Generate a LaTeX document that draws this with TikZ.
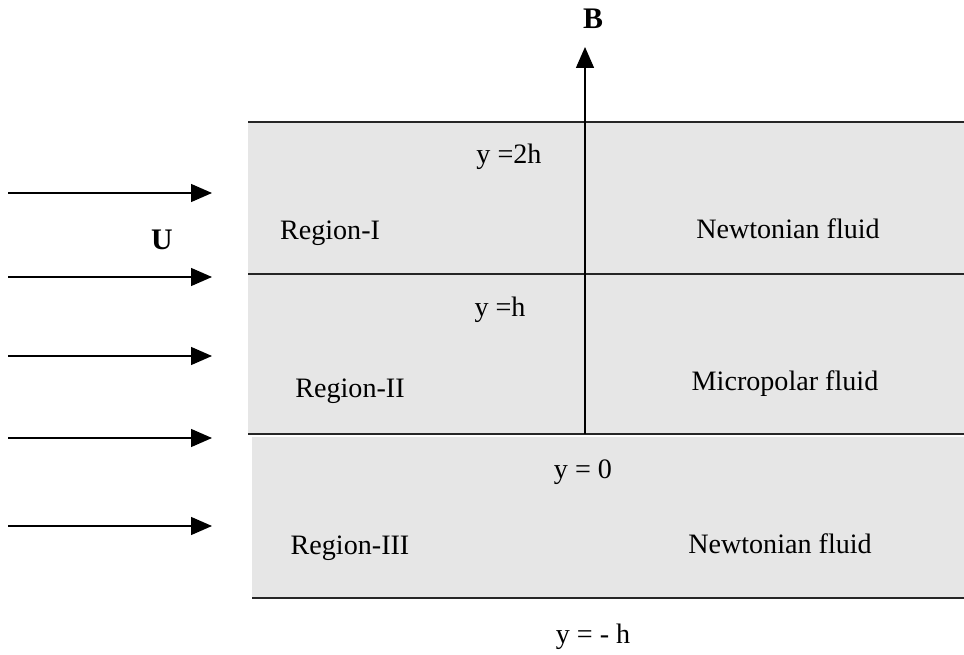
\documentclass[tikz,border=0pt]{standalone}
\usepackage{fontspec}
\setmainfont{Liberation Serif}
\usepackage{tikz}
\usetikzlibrary{arrows.meta}
\definecolor{fluidgray}{RGB}{230,230,230}
\tikzstyle{Label}=[inner sep=0pt, text=black, font=\fontsize{16}{19}\selectfont]
\tikzstyle{Vector}=[inner sep=0pt, text=black, font=\fontsize{17}{20}\selectfont\bfseries]
\tikzstyle{Layer}=[fill=fluidgray, draw=none]
\tikzstyle{wall}=[line width=0.9pt, draw=black!85]
\tikzstyle{arrow}=[line width=0.8pt, -{Triangle[length=4.2mm, width=3.6mm]}]

\begin{document}
\begin{tikzpicture}[x=0.02cm, y=-0.02cm]
	\useasboundingbox (0,0) rectangle (964,655);

	% fluid layers
	\fill [style=Layer] (248,122) rectangle (964,274);
	\fill [style=Layer] (248,274) rectangle (964,434);
	\fill [style=Layer] (252,437) rectangle (964,598);

	% walls and interfaces
	\coordinate (top_l) at (248,122);
	\coordinate (top_r) at (964,122);
	\coordinate (mid_l) at (248,274);
	\coordinate (mid_r) at (964,274);
	\coordinate (low_l) at (248,434);
	\coordinate (low_r) at (964,434);
	\coordinate (bot_l) at (252,598);
	\coordinate (bot_r) at (964,598);
	\draw [style=wall] (top_l) -- (top_r);
	\draw [style=wall] (mid_l) -- (mid_r);
	\draw [style=wall] (low_l) -- (low_r);
	\draw [style=wall] (bot_l) -- (bot_r);

	% magnetic field
	\node [style=Vector] (field) at (593,19) {B};
	\coordinate (field_base) at (585,434);
	\coordinate (field_tip) at (585,47);
	\draw [style=arrow] (field_base) -- (field_tip);

	% inflow
	\node [style=Vector] (velocity) at (162,240) {U};
	\foreach \name/\y in {a/193, b/277, c/356, d/438, e/526} {
		\coordinate (in_\name) at (8,\y);
		\coordinate (out_\name) at (212,\y);
		\draw [style=arrow] (in_\name) -- (out_\name);
	}

	% labels
	\node [style=Label] (level_two) at (509,157) {y =2h};
	\node [style=Label] (region_one) at (330,233) {Region-I};
	\node [style=Label] (fluid_one) at (788,229) {Newtonian fluid};
	\node [style=Label] (level_one) at (500,310) {y =h};
	\node [style=Label] (region_two) at (350,391) {Region-II};
	\node [style=Label] (fluid_two) at (785,384) {Micropolar fluid};
	\node [style=Label] (level_zero) at (583,472) {y = 0};
	\node [style=Label] (region_three) at (350,548) {Region-III};
	\node [style=Label] (fluid_three) at (780,544) {Newtonian fluid};
	\node [style=Label] (level_minus) at (593,637) {y = - h};
\end{tikzpicture}
\end{document}
